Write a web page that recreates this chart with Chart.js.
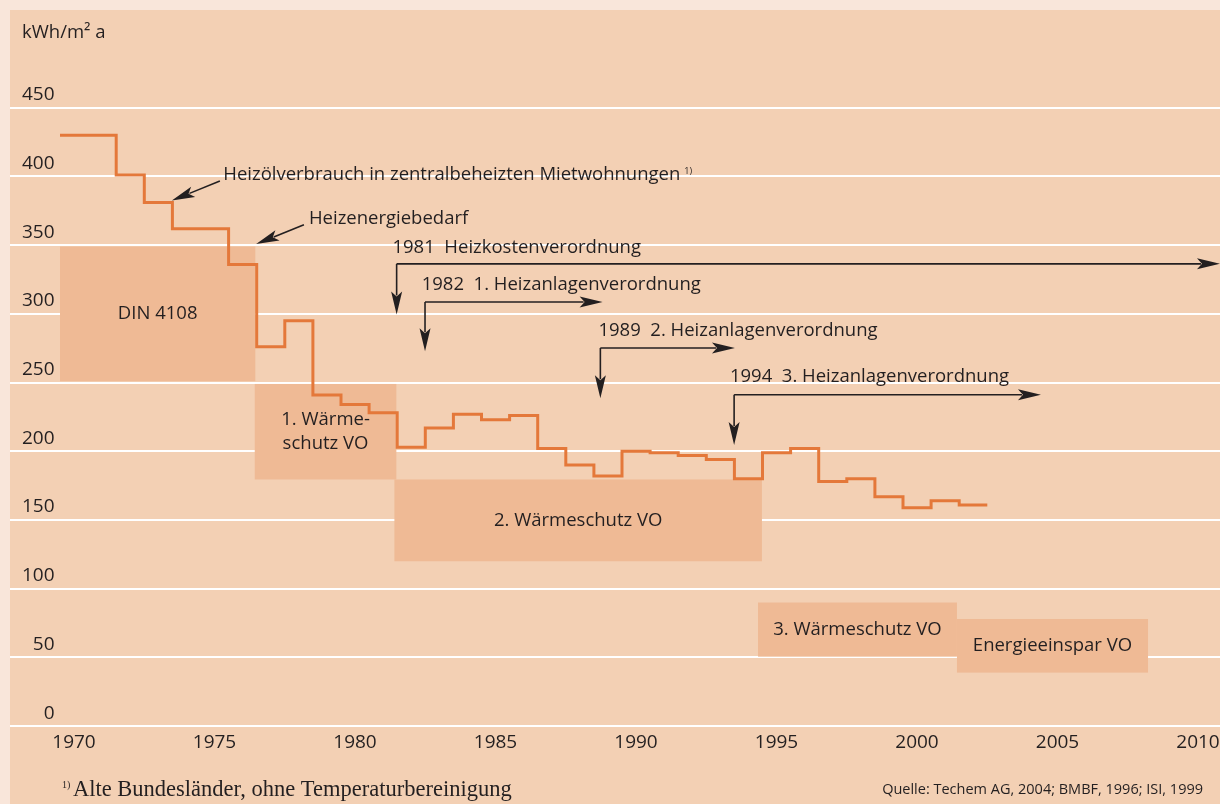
<!DOCTYPE html>
<html>
<head>
<meta charset="utf-8">
<script src="https://cdn.jsdelivr.net/npm/chart.js@4.4.1/dist/chart.umd.min.js"></script>
<style>
  html, body { margin: 0; padding: 0; background: #f9e6da; }
  #wrap { position: absolute; left: 10px; top: 10px; width: 1210px; height: 794px; background: #f3d0b4; }
  canvas { display: block; }
</style>
</head>
<body>
<div id="wrap"><canvas id="myChart" width="1210" height="794"></canvas></div>
<script>
// Heizenergie, kWh/m2 a (step values, each year until the next)
const years = [1970, 1971, 1972, 1973, 1974, 1975, 1976, 1977, 1978, 1979,
               1980, 1981, 1982, 1983, 1984, 1985, 1986, 1987, 1988, 1989,
               1990, 1991, 1992, 1993, 1994, 1995, 1996, 1997, 1998, 1999,
               2000, 2001, 2002, 2003];
const heating = [430, 430, 401, 381, 362, 362, 336, 276, 295, 241,
                 234, 228, 203, 217, 227, 223, 226, 202, 190, 182,
                 200, 199, 197, 194, 180, 199, 202, 178, 180, 167,
                 159, 164, 161, 161];

const yTicks = [0, 50, 100, 150, 200, 250, 300, 350, 400, 450];
const xTicks = [1970, 1975, 1980, 1985, 1990, 1995, 2000, 2005, 2010];

// regulation periods (shaded boxes)
const boxLabels = [['DIN 4108'], ['1. Wärme-', 'schutz VO'], ['2. Wärmeschutz VO'], ['3. Wärmeschutz VO'], ['Energieeinspar VO']];
const boxFrom = [1970, 1976.93, 1981.9, 1994.84, 2001.92];
const boxTo = [1976.95, 1981.97, 1994.98, 2001.92, 2008.72];
const boxHigh = [349, 249, 179.5, 90, 78];
const boxLow = [251, 179.5, 120, 50.6, 39];

// ordinances with bracket arrows
const lawLabels = ['1981  Heizkostenverordnung', '1982  1. Heizanlagenverordnung',
                   '1989  2. Heizanlagenverordnung', '1994  3. Heizanlagenverordnung'];
const lawStart = [1981.98, 1982.99, 1989.23, 1993.99];
const lawLevel = [336.4, 308.6, 275.2, 241.1];
const lawTip = [299.6, 272.8, 238.6, 204.6];
const lawEnd = [2011.28, 1989.31, 1994.02, 2004.91];
const lawTextX = [1981.83, 1982.87, 1989.16, 1993.84];
const lawTextY = [348, 321, 288, 254];

// pointer labels
const pointerLabels = ['Heizölverbrauch in zentralbeheizten Mietwohnungen', 'Heizenergiebedarf'];
const pointerTextX = [1975.81, 1978.86];
const pointerTextY = [401.5, 369.1];
const pointerFromX = [1975.69, 1978.68];
const pointerFromY = [396.6, 364.9];
const pointerToX = [1973.98, 1976.98];
const pointerToY = [382.5, 350.8];

const FONT = '"Open Sans", "Noto Sans", sans-serif';
const INK = '#231f20';

function arrowHead(ctx, x, y, angle) {
  const L = 23, W = 5.5, N = 5;
  ctx.save();
  ctx.translate(x, y);
  ctx.rotate(angle);
  ctx.beginPath();
  ctx.moveTo(0, 0);
  ctx.lineTo(-L, -W);
  ctx.lineTo(-L + N, 0);
  ctx.lineTo(-L, W);
  ctx.closePath();
  ctx.fill();
  ctx.restore();
}

function arrow(ctx, x1, y1, x2, y2) {
  const a = Math.atan2(y2 - y1, x2 - x1);
  const back = 19;
  ctx.beginPath();
  ctx.moveTo(x1, y1);
  ctx.lineTo(x2 - back * Math.cos(a), y2 - back * Math.sin(a));
  ctx.stroke();
  arrowHead(ctx, x2, y2, a);
}

const overlay = {
  id: 'overlay',
  beforeDatasetsDraw(chart) {
    const {ctx, scales: {x, y}} = chart;
    ctx.save();
    ctx.fillStyle = '#efba95';
    for (let i = 0; i < boxLabels.length; i++) {
      const l = x.getPixelForValue(boxFrom[i]);
      const r = x.getPixelForValue(boxTo[i]);
      const t = y.getPixelForValue(boxHigh[i]);
      const b = y.getPixelForValue(boxLow[i]);
      ctx.fillRect(l, t, r - l, b - t);
    }
    ctx.fillStyle = INK;
    ctx.font = '18.5px ' + FONT;
    ctx.textAlign = 'center';
    ctx.textBaseline = 'middle';
    for (let i = 0; i < boxLabels.length; i++) {
      const cx = (x.getPixelForValue(boxFrom[i]) + x.getPixelForValue(boxTo[i])) / 2;
      const cy = (y.getPixelForValue(boxHigh[i]) + y.getPixelForValue(boxLow[i])) / 2;
      const lines = boxLabels[i];
      lines.forEach((s, k) => {
        ctx.fillText(s, cx, cy + (k - (lines.length - 1) / 2) * 24);
      });
    }
    ctx.restore();
  },
  afterDatasetsDraw(chart) {
    const {ctx, scales: {x, y}} = chart;
    ctx.save();
    ctx.fillStyle = INK;
    ctx.strokeStyle = INK;
    ctx.lineWidth = 1.6;
    ctx.font = '18.5px ' + FONT;
    ctx.textAlign = 'left';
    ctx.textBaseline = 'middle';

    for (let i = 0; i < lawLabels.length; i++) {
      const vx = x.getPixelForValue(lawStart[i]);
      const ly = y.getPixelForValue(lawLevel[i]);
      arrow(ctx, vx, ly, x.getPixelForValue(lawEnd[i]), ly);
      arrow(ctx, vx, ly, vx, y.getPixelForValue(lawTip[i]));
      ctx.fillText(lawLabels[i], x.getPixelForValue(lawTextX[i]), y.getPixelForValue(lawTextY[i]));
    }

    for (let i = 0; i < pointerLabels.length; i++) {
      arrow(ctx, x.getPixelForValue(pointerFromX[i]), y.getPixelForValue(pointerFromY[i]),
                 x.getPixelForValue(pointerToX[i]), y.getPixelForValue(pointerToY[i]));
      const tx = x.getPixelForValue(pointerTextX[i]);
      const ty = y.getPixelForValue(pointerTextY[i]);
      ctx.font = '18.5px ' + FONT;
      ctx.fillText(pointerLabels[i], tx, ty);
      if (i === 0) {
        const w = ctx.measureText(pointerLabels[i]).width;
        ctx.font = '9px ' + FONT;
        ctx.fillText('1)', tx + w + 4, ty - 3);
      }
    }

    // unit
    ctx.font = '18.5px ' + FONT;
    ctx.fillText('kWh/m² a', 12, 23);

    // footnote and source
    ctx.textBaseline = 'alphabetic';
    ctx.font = '10px "Liberation Serif", serif';
    ctx.fillText('1)', 52, 778);
    ctx.font = '22.5px "Liberation Serif", serif';
    ctx.fillText('Alte Bundesländer, ohne Temperaturbereinigung', 63, 786);
    ctx.textAlign = 'right';
    ctx.font = '14.5px ' + FONT;
    ctx.fillText('Quelle: Techem AG, 2004; BMBF, 1996; ISI, 1999', 1193, 784);
    ctx.restore();
  }
};

Chart.defaults.font.family = FONT;
Chart.defaults.color = INK;

const ctx = document.getElementById('myChart').getContext('2d');
const myChart = new Chart(ctx, {
  type: 'line',
  data: {
    datasets: [{
      label: 'Heizenergie',
      data: years.map((yr, i) => ({x: yr, y: heating[i]})),
      borderColor: '#e4783a',
      borderWidth: 3,
      stepped: true,
      pointRadius: 0,
      fill: false
    }]
  },
  options: {
    responsive: false,
    animation: false,
    layout: {padding: {top: 97.7, bottom: 45, left: 0, right: 0}},
    plugins: {legend: {display: false}, tooltip: {enabled: false}},
    scales: {
      x: {
        type: 'linear',
        min: 1968.2206,
        max: 2011.2811,
        afterBuildTicks: axis => { axis.ticks = xTicks.map(v => ({value: v})); },
        grid: {display: false, drawTicks: false},
        border: {display: false},
        ticks: {
          font: {size: 19},
          padding: 5,
          labelOffset: 14,
          maxRotation: 0,
          autoSkip: false,
          callback: v => String(v)
        }
      },
      y: {
        min: 0,
        max: 450,
        afterBuildTicks: axis => { axis.ticks = yTicks.map(v => ({value: v})); },
        afterFit: axis => { axis.width = 0; },
        grid: {color: '#ffffff', lineWidth: 2, drawTicks: false},
        border: {display: false},
        ticks: {
          mirror: true,
          crossAlign: 'far',
          padding: 12,
          labelOffset: -13,
          font: {size: 19},
          callback: v => String(v)
        }
      }
    }
  },
  plugins: [overlay]
});
</script>
</body>
</html>
